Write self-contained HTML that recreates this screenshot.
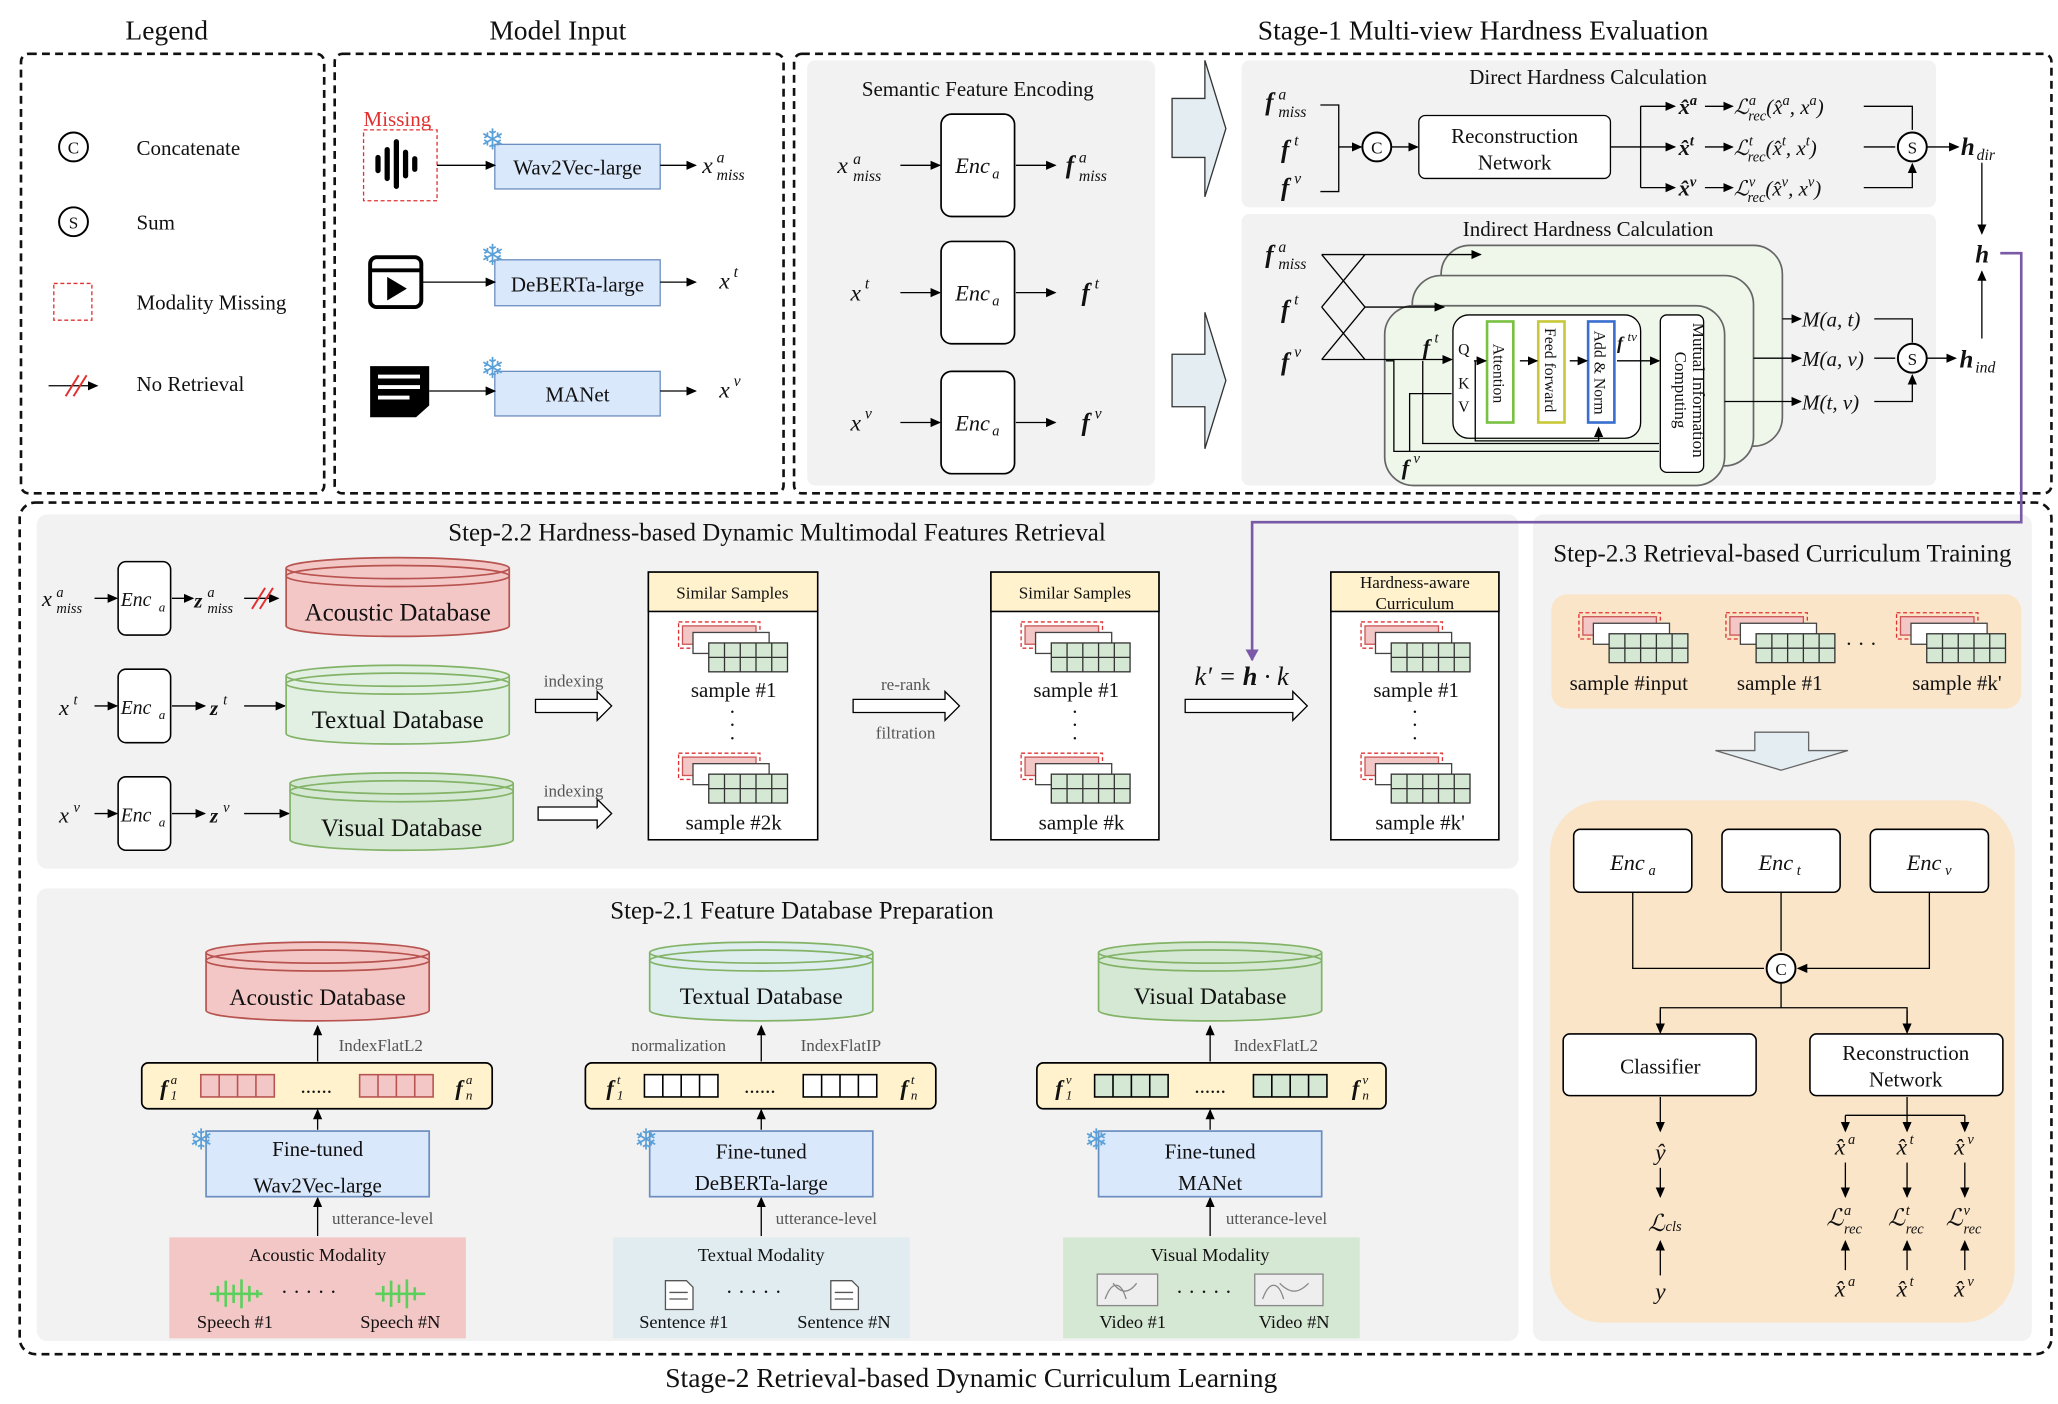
<!DOCTYPE html>
<html><head><meta charset="utf-8"><style>
html,body{margin:0;padding:0;background:#fff;}
svg{display:block;}
text{font-family:"Liberation Serif",serif;fill:#111;}
.m{font-style:italic;}
</style></head><body>
<svg width="2058" height="1404" viewBox="0 0 1568 1070" preserveAspectRatio="none" xmlns="http://www.w3.org/2000/svg">
<defs>
<marker id="ar" markerWidth="8" markerHeight="8" refX="7" refY="4" orient="auto" markerUnits="userSpaceOnUse"><path d="M0,0.5 L8,4 L0,7.5 z" fill="#000"/></marker>
<marker id="arp" markerWidth="10" markerHeight="10" refX="8" refY="5" orient="auto" markerUnits="userSpaceOnUse"><path d="M0,0 L9,5 L0,10 z" fill="#7a5aa8"/></marker>
<symbol id="stk" viewBox="0 0 86 42" width="86" height="42">
<rect x="1" y="1" width="62" height="20" fill="none" stroke="#e03030" stroke-dasharray="3,2"/>
<rect x="4" y="4" width="56" height="14" fill="#f4c7c7" stroke="#c55"/>
<rect x="12" y="9" width="58" height="16" fill="#fff" stroke="#444"/>
<rect x="24" y="17" width="60" height="22" fill="#d5e8d4" stroke="#333"/>
<path d="M36,17V39M48,17V39M60,17V39M72,17V39M24,28H84" stroke="#333" fill="none"/>
</symbol>
</defs>

<!-- titles -->
<text x="127" y="30" font-size="21" text-anchor="middle">Legend</text>
<text x="425" y="30" font-size="21" text-anchor="middle">Model Input</text>
<text x="1130" y="30" font-size="21" text-anchor="middle">Stage-1 Multi-view Hardness Evaluation</text>
<text x="740" y="1057" font-size="21" text-anchor="middle">Stage-2 Retrieval-based Dynamic Curriculum Learning</text>

<!-- dashed frames -->
<g fill="none" stroke="#111" stroke-width="2" stroke-dasharray="6,4">
<rect x="16" y="41" width="231" height="335" rx="6"/>
<rect x="255" y="41" width="342" height="335" rx="6"/>
<rect x="605" y="41" width="958" height="335" rx="6"/>
<rect x="15" y="383" width="1548" height="649" rx="12"/>
</g>

<!-- legend -->
<circle cx="56" cy="112" r="11" fill="#fff" stroke="#000" stroke-width="1.5"/><text x="56" y="117" font-size="13" text-anchor="middle" font-family="Liberation Sans">C</text>
<text x="104" y="118" font-size="16">Concatenate</text>
<circle cx="56" cy="169" r="11" fill="#fff" stroke="#000" stroke-width="1.5"/><text x="56" y="174" font-size="13" text-anchor="middle" font-family="Liberation Sans">S</text>
<text x="104" y="175" font-size="16">Sum</text>
<rect x="41" y="216" width="29" height="28" fill="none" stroke="#e03030" stroke-dasharray="3,2"/>
<text x="104" y="236" font-size="16">Modality Missing</text>
<line x1="37" y1="294" x2="74" y2="294" stroke="#000" marker-end="url(#ar)"/>
<path d="M50,302L60,286M56,302L66,286" stroke="#e03030" stroke-width="1.5"/>
<text x="104" y="298" font-size="16">No Retrieval</text>

<!-- model input -->
<text x="277" y="96" font-size="16" style="fill:#e03030">Missing</text>
<rect x="277" y="99" width="56" height="54" fill="none" stroke="#e03030" stroke-dasharray="3,2"/>
<g stroke="#000" stroke-width="4" stroke-linecap="round"><path d="M288,120v10M295,114v22M302,108v34M309,116v18M316,121v8"/></g>
<rect x="377" y="110" width="126" height="34" fill="#dae8fc" stroke="#6c8ebf"/><text x="440" y="133" font-size="16" text-anchor="middle">Wav2Vec-large</text>
<line x1="333" y1="126" x2="377" y2="126" stroke="#000" marker-end="url(#ar)"/>
<line x1="503" y1="126" x2="530" y2="126" stroke="#000" marker-end="url(#ar)"/>
<text x="535" y="132" font-size="18" class="m">x</text><text x="546" y="124" font-size="12" class="m">a</text><text x="546" y="137" font-size="12" class="m">miss</text>
<rect x="282" y="196" width="39" height="38" rx="5" fill="#fff" stroke="#000" stroke-width="3"/><path d="M282,206H321" stroke="#000" stroke-width="3"/><path d="M295,211L310,220L295,229z" fill="#000"/>
<rect x="377" y="198" width="126" height="35" fill="#dae8fc" stroke="#6c8ebf"/><text x="440" y="222" font-size="16" text-anchor="middle">DeBERTa-large</text>
<line x1="321" y1="215" x2="377" y2="215" stroke="#000" marker-end="url(#ar)"/>
<line x1="503" y1="215" x2="530" y2="215" stroke="#000" marker-end="url(#ar)"/>
<text x="548" y="220" font-size="18" class="m">x</text><text x="559" y="211" font-size="12" class="m">t</text>
<path d="M282,279H327V309L317,318H282z" fill="#000"/><path d="M288,287H320M288,295H320M288,303H312" stroke="#fff" stroke-width="3"/>
<rect x="377" y="283" width="126" height="34" fill="#dae8fc" stroke="#6c8ebf"/><text x="440" y="306" font-size="16" text-anchor="middle">MANet</text>
<line x1="327" y1="298" x2="377" y2="298" stroke="#000" marker-end="url(#ar)"/>
<line x1="503" y1="298" x2="530" y2="298" stroke="#000" marker-end="url(#ar)"/>
<text x="548" y="303" font-size="18" class="m">x</text><text x="559" y="294" font-size="12" class="m">v</text>
<g font-size="22" font-family="DejaVu Sans"><text x="366" y="114" style="fill:#5aa0d8">❄</text><text x="366" y="202" style="fill:#5aa0d8">❄</text><text x="366" y="288" style="fill:#5aa0d8">❄</text></g>

<!-- semantic encoding -->
<rect x="615" y="46" width="265" height="324" rx="6" fill="#f2f2f2"/>
<text x="745" y="73" font-size="16" text-anchor="middle">Semantic Feature Encoding</text>
<g fill="#fff" stroke="#000" stroke-width="1.3"><rect x="717" y="87" width="56" height="78" rx="8"/><rect x="717" y="184" width="56" height="78" rx="8"/><rect x="717" y="283" width="56" height="78" rx="8"/></g>
<g font-size="17" class="m" text-anchor="middle"><text x="741" y="132">Enc</text><text x="741" y="229">Enc</text><text x="741" y="328">Enc</text></g>
<g font-size="11" class="m"><text x="756" y="136">a</text><text x="756" y="233">a</text><text x="756" y="332">a</text></g>
<g stroke="#000" marker-end="url(#ar)"><line x1="686" y1="126" x2="716" y2="126"/><line x1="686" y1="223" x2="716" y2="223"/><line x1="686" y1="322" x2="716" y2="322"/><line x1="774" y1="126" x2="804" y2="126"/><line x1="774" y1="223" x2="804" y2="223"/><line x1="774" y1="322" x2="804" y2="322"/></g>
<text x="638" y="132" font-size="18" class="m">x</text><text x="650" y="125" font-size="12" class="m">a</text><text x="650" y="138" font-size="12" class="m">miss</text>
<text x="648" y="229" font-size="18" class="m">x</text><text x="659" y="220" font-size="12" class="m">t</text>
<text x="648" y="328" font-size="18" class="m">x</text><text x="659" y="319" font-size="12" class="m">v</text>
<text x="812" y="132" font-size="19" class="m" font-weight="bold">f</text><text x="822" y="124" font-size="12" class="m">a</text><text x="822" y="138" font-size="12" class="m">miss</text>
<text x="824" y="229" font-size="19" class="m" font-weight="bold">f</text><text x="834" y="220" font-size="12" class="m">t</text>
<text x="824" y="328" font-size="19" class="m" font-weight="bold">f</text><text x="834" y="319" font-size="12" class="m">v</text>
<g fill="#e3edf2" stroke="#333"><path d="M893,75H918V46L934,98L918,150V120H893z"/><path d="M893,270H918V238L934,290L918,342V310H893z"/></g>

<!-- direct -->
<rect x="946" y="46" width="529" height="112" rx="6" fill="#f2f2f2"/>
<text x="1210" y="64" font-size="16" text-anchor="middle">Direct Hardness Calculation</text>
<text x="964" y="84" font-size="19" class="m" font-weight="bold">f</text><text x="974" y="76" font-size="12" class="m">a</text><text x="974" y="89" font-size="12" class="m">miss</text>
<text x="976" y="120" font-size="19" class="m" font-weight="bold">f</text><text x="986" y="111" font-size="12" class="m">t</text>
<text x="976" y="149" font-size="19" class="m" font-weight="bold">f</text><text x="986" y="140" font-size="12" class="m">v</text>
<path d="M1006,80H1020V146H1006" stroke="#000" fill="none"/>
<line x1="1020" y1="112" x2="1037" y2="112" stroke="#000" marker-end="url(#ar)"/>
<circle cx="1049" cy="112" r="11" fill="#fff" stroke="#000" stroke-width="1.5"/><text x="1049" y="117" font-size="13" text-anchor="middle" font-family="Liberation Sans">C</text>
<line x1="1060" y1="112" x2="1080" y2="112" stroke="#000" marker-end="url(#ar)"/>
<rect x="1081" y="88" width="146" height="48" rx="5" fill="#fff" stroke="#000"/>
<text x="1154" y="109" font-size="16" text-anchor="middle">Reconstruction</text><text x="1154" y="129" font-size="16" text-anchor="middle">Network</text>
<path d="M1227,112H1250M1250,81V143" stroke="#000" fill="none"/>
<g stroke="#000" marker-end="url(#ar)"><line x1="1250" y1="81" x2="1276" y2="81"/><line x1="1250" y1="112" x2="1276" y2="112"/><line x1="1250" y1="143" x2="1276" y2="143"/>
<line x1="1299" y1="81" x2="1320" y2="81"/><line x1="1299" y1="112" x2="1320" y2="112"/><line x1="1299" y1="143" x2="1320" y2="143"/></g>
<g font-size="17" class="m" font-weight="bold">
<text x="1279" y="87">x̂<tspan font-size="11" dy="-7">a</tspan></text>
<text x="1279" y="118">x̂<tspan font-size="11" dy="-7">t</tspan></text>
<text x="1279" y="149">x̂<tspan font-size="11" dy="-7">v</tspan></text>
</g>
<g font-size="16" class="m">
<text x="1321" y="87">ℒ<tspan font-size="11" dy="-7">a</tspan><tspan font-size="11" dx="-6" dy="12">rec</tspan><tspan dy="-5">(x̂</tspan><tspan font-size="11" dy="-7">a</tspan><tspan dy="7">,  x</tspan><tspan font-size="11" dy="-7">a</tspan><tspan dy="7">)</tspan></text>
<text x="1321" y="118">ℒ<tspan font-size="11" dy="-7">t</tspan><tspan font-size="11" dx="-4" dy="12">rec</tspan><tspan dy="-5">(x̂</tspan><tspan font-size="11" dy="-7">t</tspan><tspan dy="7">,  x</tspan><tspan font-size="11" dy="-7">t</tspan><tspan dy="7">)</tspan></text>
<text x="1321" y="149">ℒ<tspan font-size="11" dy="-7">v</tspan><tspan font-size="11" dx="-6" dy="12">rec</tspan><tspan dy="-5">(x̂</tspan><tspan font-size="11" dy="-7">v</tspan><tspan dy="7">,  x</tspan><tspan font-size="11" dy="-7">v</tspan><tspan dy="7">)</tspan></text>
</g>
<path d="M1420,81H1457V99M1420,112H1444M1420,143H1457V125" stroke="#000" fill="none" marker-end="url(#ar)"/>
<circle cx="1457" cy="112" r="11" fill="#fff" stroke="#000" stroke-width="1.5"/><text x="1457" y="117" font-size="13" text-anchor="middle" font-family="Liberation Sans">S</text>
<line x1="1468" y1="112" x2="1492" y2="112" stroke="#000" marker-end="url(#ar)"/>
<text x="1494" y="118" font-size="19" class="m" font-weight="bold">h</text><text x="1506" y="122" font-size="12" class="m">dir</text>
<line x1="1510" y1="124" x2="1510" y2="178" stroke="#000" marker-end="url(#ar)"/>
<text x="1505" y="200" font-size="19" class="m" font-weight="bold">h</text>

<!-- indirect -->
<rect x="946" y="163" width="529" height="207" rx="6" fill="#f2f2f2"/>
<text x="1210" y="180" font-size="16" text-anchor="middle">Indirect Hardness Calculation</text>
<g fill="#eef7ea" stroke="#666" stroke-width="1.3"><rect x="1098" y="187" width="260" height="153" rx="22"/><rect x="1076" y="210" width="260" height="145" rx="22"/><rect x="1055" y="233" width="259" height="137" rx="22"/></g>
<text x="964" y="200" font-size="19" class="m" font-weight="bold">f</text><text x="974" y="192" font-size="12" class="m">a</text><text x="974" y="205" font-size="12" class="m">miss</text>
<text x="976" y="242" font-size="19" class="m" font-weight="bold">f</text><text x="986" y="232" font-size="12" class="m">t</text>
<text x="976" y="282" font-size="19" class="m" font-weight="bold">f</text><text x="986" y="272" font-size="12" class="m">v</text>
<path d="M1007,194H1040M1007,194L1040,234M1007,234L1040,194M1007,234L1040,274M1007,274L1040,234M1007,274H1040" stroke="#000" fill="none"/>
<g stroke="#000" marker-end="url(#ar)"><line x1="1040" y1="194" x2="1128" y2="194"/><line x1="1040" y1="234" x2="1100" y2="234"/><line x1="1040" y1="274" x2="1106" y2="274"/></g>
<rect x="1107" y="240" width="143" height="94" rx="12" fill="#fff" stroke="#000"/>
<rect x="1133" y="245" width="20" height="77" fill="#fff" stroke="#7ac143" stroke-width="2"/>
<rect x="1172" y="245" width="20" height="77" fill="#fff" stroke="#c8c83a" stroke-width="2"/>
<rect x="1210" y="245" width="20" height="77" fill="#fff" stroke="#3a6fd0" stroke-width="2"/>
<g font-size="12"><text transform="translate(1138,262) rotate(90)">Attention</text><text transform="translate(1177,250) rotate(90)">Feed forward</text><text transform="translate(1215,252) rotate(90)">Add &amp; Norm</text></g>
<g font-size="12"><text x="1111" y="270">Q</text><text x="1111" y="296">K</text><text x="1111" y="314">V</text></g>
<g stroke="#000" marker-end="url(#ar)"><line x1="1123" y1="275" x2="1132" y2="275"/><line x1="1158" y1="275" x2="1171" y2="275"/><line x1="1196" y1="275" x2="1209" y2="275"/><line x1="1232" y1="275" x2="1264" y2="275"/></g>
<path d="M1124,275V336H1218V326" stroke="#000" fill="none" marker-end="url(#ar)"/>
<text x="1232" y="266" font-size="14" class="m" font-weight="bold">f</text><text x="1240" y="260" font-size="10" class="m">tv</text>
<text x="1084" y="270" font-size="17" class="m" font-weight="bold">f</text><text x="1093" y="261" font-size="11" class="m">t</text>
<text x="1068" y="362" font-size="17" class="m" font-weight="bold">f</text><text x="1077" y="353" font-size="11" class="m">v</text>
<path d="M1056,275H1062V344H1264M1074,344V300H1106M1084,275V338H1264" stroke="#000" fill="none"/>
<rect x="1265" y="240" width="33" height="120" rx="5" fill="#fff" stroke="#000"/>
<g font-size="13"><text transform="translate(1290,246) rotate(90)">Mutual Information</text><text transform="translate(1276,268) rotate(90)">Computing</text></g>
<g stroke="#000" marker-end="url(#ar)"><line x1="1358" y1="243" x2="1372" y2="243"/><line x1="1336" y1="273" x2="1372" y2="273"/><line x1="1314" y1="306" x2="1372" y2="306"/></g>
<g font-size="16" class="m"><text x="1373" y="249">M(a, t)</text><text x="1373" y="279">M(a, v)</text><text x="1373" y="312">M(t, v)</text></g>
<path d="M1428,243H1457V261M1428,273H1444M1428,306H1457V286" stroke="#000" fill="none" marker-end="url(#ar)"/>
<circle cx="1457" cy="273" r="11" fill="#fff" stroke="#000" stroke-width="1.5"/><text x="1457" y="278" font-size="13" text-anchor="middle" font-family="Liberation Sans">S</text>
<line x1="1468" y1="273" x2="1490" y2="273" stroke="#000" marker-end="url(#ar)"/>
<text x="1493" y="280" font-size="19" class="m" font-weight="bold">h</text><text x="1505" y="284" font-size="12" class="m">ind</text>
<line x1="1510" y1="258" x2="1510" y2="207" stroke="#000" marker-end="url(#ar)"/>

<!-- Step 2.2 -->
<rect x="28" y="392" width="1129" height="270" rx="8" fill="#f2f2f2"/>
<text x="592" y="412" font-size="19" text-anchor="middle">Step-2.2 Hardness-based Dynamic Multimodal Features Retrieval</text>
<g fill="#fff" stroke="#000" stroke-width="1.2"><rect x="90" y="428" width="40" height="56" rx="6"/><rect x="90" y="510" width="40" height="56" rx="6"/><rect x="90" y="592" width="40" height="56" rx="6"/></g>
<g font-size="15" class="m"><text x="92" y="462">Enc</text><text x="92" y="544">Enc</text><text x="92" y="626">Enc</text></g>
<g font-size="10" class="m"><text x="121" y="466">a</text><text x="121" y="548">a</text><text x="121" y="630">a</text></g>
<text x="32" y="462" font-size="17" class="m">x</text><text x="43" y="455" font-size="11" class="m">a</text><text x="43" y="467" font-size="11" class="m">miss</text>
<text x="45" y="545" font-size="17" class="m">x</text><text x="56" y="537" font-size="11" class="m">t</text>
<text x="45" y="627" font-size="17" class="m">x</text><text x="56" y="619" font-size="11" class="m">v</text>
<g stroke="#000" marker-end="url(#ar)"><line x1="72" y1="456" x2="89" y2="456"/><line x1="72" y1="538" x2="89" y2="538"/><line x1="72" y1="620" x2="89" y2="620"/><line x1="131" y1="456" x2="147" y2="456"/><line x1="131" y1="538" x2="156" y2="538"/><line x1="131" y1="620" x2="156" y2="620"/><line x1="186" y1="456" x2="212" y2="456"/><line x1="186" y1="538" x2="217" y2="538"/><line x1="186" y1="620" x2="220" y2="620"/></g>
<path d="M192,464L202,448M198,464L208,448" stroke="#e03030" stroke-width="1.5"/>
<text x="148" y="463" font-size="16" class="m" font-weight="bold">z</text><text x="158" y="455" font-size="11" class="m">a</text><text x="158" y="467" font-size="11" class="m">miss</text>
<text x="160" y="545" font-size="16" class="m" font-weight="bold">z</text><text x="170" y="537" font-size="11" class="m">t</text>
<text x="160" y="627" font-size="16" class="m" font-weight="bold">z</text><text x="170" y="619" font-size="11" class="m">v</text>
<g stroke-width="1.3">
<path d="M218,433V477A85,8 0 0 0 388,477V433" fill="#f4c7c7" stroke="#b85450"/><ellipse cx="303" cy="433" rx="85" ry="8" fill="#f4c7c7" stroke="#b85450"/><ellipse cx="303" cy="439" rx="85" ry="8" fill="none" stroke="#b85450"/>
<path d="M218,515V559A85,8 0 0 0 388,559V515" fill="#e2efe3" stroke="#82b366"/><ellipse cx="303" cy="515" rx="85" ry="8" fill="#e2efe3" stroke="#82b366"/><ellipse cx="303" cy="521" rx="85" ry="8" fill="none" stroke="#82b366"/>
<path d="M221,597V640A85,8 0 0 0 391,640V597" fill="#d5e8d4" stroke="#82b366"/><ellipse cx="306" cy="597" rx="85" ry="8" fill="#d5e8d4" stroke="#82b366"/><ellipse cx="306" cy="603" rx="85" ry="8" fill="none" stroke="#82b366"/>
</g>
<g font-size="19" text-anchor="middle"><text x="303" y="473">Acoustic Database</text><text x="303" y="555">Textual Database</text><text x="306" y="637">Visual Database</text></g>
<g fill="#fff" stroke="#000"><path d="M408,533H455V527L466,538L455,549V543H408z"/><path d="M410,615H455V609L466,620L455,631V625H410z"/><path d="M650,533H720V527L731,538L720,549V543H650z"/><path d="M903,533H985V527L996,538L985,549V543H903z"/></g>
<g font-size="13" text-anchor="middle"><text x="437" y="523" style="fill:#555">indexing</text><text x="437" y="607" style="fill:#555">indexing</text><text x="690" y="526" style="fill:#555">re-rank</text><text x="690" y="563" style="fill:#555">filtration</text></g>
<text x="946" y="522" font-size="20" class="m" text-anchor="middle">k′ = <tspan font-weight="bold">h</tspan> · k</text>
<g stroke="#000" stroke-width="1.2"><rect x="494" y="436" width="129" height="204" fill="#fff"/><rect x="494" y="436" width="129" height="30" fill="#fff2cc"/>
<rect x="755" y="436" width="128" height="204" fill="#fff"/><rect x="755" y="436" width="128" height="30" fill="#fff2cc"/>
<rect x="1014" y="436" width="128" height="204" fill="#fff"/><rect x="1014" y="436" width="128" height="30" fill="#fff2cc"/></g>
<g font-size="13" text-anchor="middle"><text x="558" y="456">Similar Samples</text><text x="819" y="456">Similar Samples</text><text x="1078" y="448">Hardness-aware</text><text x="1078" y="464">Curriculum</text></g>
<use href="#stk" x="516" y="473"/><use href="#stk" x="516" y="573"/><use href="#stk" x="777" y="473"/><use href="#stk" x="777" y="573"/><use href="#stk" x="1036" y="473"/><use href="#stk" x="1036" y="573"/>
<g font-size="16" text-anchor="middle"><text x="559" y="531">sample #1</text><text x="559" y="632">sample #2k</text><text x="820" y="531">sample #1</text><text x="824" y="632">sample #k</text><text x="1079" y="531">sample #1</text><text x="1082" y="632">sample #k'</text></g>
<g font-size="16" text-anchor="middle"><text x="558" y="548">·</text><text x="558" y="558">·</text><text x="558" y="568">·</text><text x="819" y="548">·</text><text x="819" y="558">·</text><text x="819" y="568">·</text><text x="1078" y="548">·</text><text x="1078" y="558">·</text><text x="1078" y="568">·</text></g>

<!-- Step 2.1 -->
<rect x="28" y="677" width="1129" height="345" rx="8" fill="#f2f2f2"/>
<text x="611" y="700" font-size="19" text-anchor="middle">Step-2.1 Feature Database Preparation</text>
<g stroke-width="1.3">
<path d="M157,726V770A85,8 0 0 0 327,770V726" fill="#f4c7c7" stroke="#b85450"/><ellipse cx="242" cy="726" rx="85" ry="8" fill="#f4c7c7" stroke="#b85450"/><ellipse cx="242" cy="732" rx="85" ry="8" fill="none" stroke="#b85450"/>
<path d="M495,726V770A85,8 0 0 0 665,770V726" fill="#deedee" stroke="#82b366"/><ellipse cx="580" cy="726" rx="85" ry="8" fill="#deedee" stroke="#82b366"/><ellipse cx="580" cy="732" rx="85" ry="8" fill="none" stroke="#82b366"/>
<path d="M837,726V770A85,8 0 0 0 1007,770V726" fill="#d5e8d4" stroke="#82b366"/><ellipse cx="922" cy="726" rx="85" ry="8" fill="#d5e8d4" stroke="#82b366"/><ellipse cx="922" cy="732" rx="85" ry="8" fill="none" stroke="#82b366"/>
</g>
<g font-size="18" text-anchor="middle"><text x="242" y="766">Acoustic Database</text><text x="580" y="765">Textual Database</text><text x="922" y="765">Visual Database</text></g>
<g stroke="#000" marker-end="url(#ar)"><line x1="242" y1="809" x2="242" y2="782"/><line x1="580" y1="809" x2="580" y2="782"/><line x1="922" y1="809" x2="922" y2="782"/><line x1="242" y1="861" x2="242" y2="846"/><line x1="580" y1="861" x2="580" y2="846"/><line x1="922" y1="861" x2="922" y2="846"/><line x1="242" y1="942" x2="242" y2="913"/><line x1="580" y1="942" x2="580" y2="913"/><line x1="922" y1="942" x2="922" y2="913"/></g>
<g font-size="13"><text x="258" y="801" style="fill:#555">IndexFlatL2</text><text x="481" y="801" style="fill:#555">normalization</text><text x="610" y="801" style="fill:#555">IndexFlatIP</text><text x="940" y="801" style="fill:#555">IndexFlatL2</text><text x="253" y="933" style="fill:#555">utterance-level</text><text x="591" y="933" style="fill:#555">utterance-level</text><text x="934" y="933" style="fill:#555">utterance-level</text></g>
<g fill="#fff2cc" stroke="#000" stroke-width="1.3"><rect x="108" y="810" width="267" height="35" rx="5"/><rect x="446" y="810" width="267" height="35" rx="5"/><rect x="790" y="810" width="266" height="35" rx="5"/></g>
<g stroke-width="1.2"><rect x="153" y="819" width="56" height="17" fill="#f4c7c7" stroke="#b85450"/><rect x="274" y="819" width="56" height="17" fill="#f4c7c7" stroke="#b85450"/><path d="M167,819v17M181,819v17M195,819v17M288,819v17M302,819v17M316,819v17" stroke="#b85450"/>
<rect x="491" y="819" width="56" height="17" fill="#fff" stroke="#000"/><rect x="612" y="819" width="56" height="17" fill="#fff" stroke="#000"/><path d="M505,819v17M519,819v17M533,819v17M626,819v17M640,819v17M654,819v17" stroke="#000"/>
<rect x="834" y="819" width="56" height="17" fill="#d5e8d4" stroke="#000"/><rect x="955" y="819" width="56" height="17" fill="#d5e8d4" stroke="#000"/><path d="M848,819v17M862,819v17M876,819v17M969,819v17M983,819v17M997,819v17" stroke="#000"/></g>
<g font-size="16"><text x="229" y="833">......</text><text x="567" y="833">......</text><text x="910" y="833">......</text></g>
<g font-size="17" class="m" font-weight="bold"><text x="122" y="835">f</text><text x="347" y="835">f</text><text x="462" y="835">f</text><text x="686" y="835">f</text><text x="804" y="835">f</text><text x="1030" y="835">f</text></g>
<g font-size="10" class="m"><text x="130" y="826">a</text><text x="130" y="838">1</text><text x="355" y="826">a</text><text x="355" y="838">n</text><text x="470" y="826">t</text><text x="470" y="838">1</text><text x="694" y="826">t</text><text x="694" y="838">n</text><text x="812" y="826">v</text><text x="812" y="838">1</text><text x="1038" y="826">v</text><text x="1038" y="838">n</text></g>
<g fill="#dae8fc" stroke="#6c8ebf" stroke-width="1.3"><rect x="157" y="862" width="170" height="50"/><rect x="495" y="862" width="170" height="50"/><rect x="837" y="862" width="170" height="50"/></g>
<g font-size="16" text-anchor="middle"><text x="242" y="881">Fine-tuned</text><text x="242" y="909">Wav2Vec-large</text><text x="580" y="883">Fine-tuned</text><text x="580" y="907">DeBERTa-large</text><text x="922" y="883">Fine-tuned</text><text x="922" y="907">MANet</text></g>
<g font-size="22" font-family="DejaVu Sans"><text x="144" y="876" style="fill:#5aa0d8">❄</text><text x="483" y="876" style="fill:#5aa0d8">❄</text><text x="826" y="876" style="fill:#5aa0d8">❄</text></g>
<rect x="129" y="943" width="226" height="77" fill="#f4c7c7"/><rect x="467" y="943" width="226" height="77" fill="#e0ecf0"/><rect x="810" y="943" width="226" height="77" fill="#d5e8d4"/>
<g font-size="14" text-anchor="middle"><text x="242" y="961">Acoustic Modality</text><text x="580" y="961">Textual Modality</text><text x="922" y="961">Visual Modality</text>
<text x="179" y="1012">Speech #1</text><text x="305" y="1012">Speech #N</text><text x="521" y="1012">Sentence #1</text><text x="643" y="1012">Sentence #N</text><text x="863" y="1012">Video #1</text><text x="986" y="1012">Video #N</text></g>
<g font-size="16"><text x="214" y="990">· · · · ·</text><text x="553" y="990">· · · · ·</text><text x="896" y="990">· · · · ·</text></g>
<g stroke="#5cd05c" stroke-width="2"><path d="M160,986h40M166,980v12M172,976v20M178,979v14M184,975v22M190,980v12M196,983v6M286,986h38M292,980v12M298,976v20M304,979v14M310,975v22M316,981v10"/></g>
<g fill="#fff" stroke="#555"><path d="M507,976h16l5,5v17h-21z"/><path d="M633,976h16l5,5v17h-21z"/><path d="M510,985h14M510,990h14M636,985h14M636,990h14"/></g>
<g fill="#eee" stroke="#888"><rect x="836" y="971" width="46" height="24"/><rect x="956" y="971" width="52" height="24"/><path d="M842,990c5,-14 12,-14 16,0M848,978c6,8 12,8 18,0M962,990c5,-14 12,-14 16,0M975,978c8,8 14,8 22,0" fill="none"/></g>

<!-- Step 2.3 -->
<rect x="1168" y="392" width="380" height="630" rx="8" fill="#f2f2f2"/>
<text x="1358" y="428" font-size="19" text-anchor="middle">Step-2.3 Retrieval-based Curriculum Training</text>
<rect x="1182" y="453" width="358" height="87" rx="12" fill="#fbe5c8"/>
<use href="#stk" x="1202" y="466"/><use href="#stk" x="1314" y="466"/><use href="#stk" x="1444" y="466"/>
<g font-size="16" text-anchor="middle"><text x="1241" y="526">sample #input</text><text x="1356" y="526">sample #1</text><text x="1491" y="526">sample #k'</text><text x="1418" y="496">· · ·</text></g>
<path d="M1337,558H1378V572H1408L1357,587L1307,572H1337z" fill="#e3edf2" stroke="#666"/>
<rect x="1181" y="610" width="354" height="398" rx="40" fill="#fbe5c8"/>
<g fill="#fff" stroke="#000" stroke-width="1.2"><rect x="1199" y="632" width="90" height="48" rx="5"/><rect x="1312" y="632" width="90" height="48" rx="5"/><rect x="1425" y="632" width="90" height="48" rx="5"/></g>
<g font-size="17" class="m" text-anchor="middle"><text x="1240" y="663">Enc</text><text x="1353" y="663">Enc</text><text x="1466" y="663">Enc</text></g>
<g font-size="11" class="m"><text x="1256" y="667">a</text><text x="1369" y="667">t</text><text x="1482" y="667">v</text></g>
<path d="M1244,680V738H1344M1357,680V725M1470,680V738H1370" stroke="#000" fill="none" marker-end="url(#ar)"/>
<circle cx="1357" cy="738" r="11" fill="#fff" stroke="#000" stroke-width="1.5"/><text x="1357" y="743" font-size="13" text-anchor="middle" font-family="Liberation Sans">C</text>
<path d="M1357,749V768M1265,786V768H1453V786" stroke="#000" fill="none"/>
<g stroke="#000" marker-end="url(#ar)"><line x1="1265" y1="770" x2="1265" y2="787"/><line x1="1453" y1="770" x2="1453" y2="787"/></g>
<g fill="#fff" stroke="#000" stroke-width="1.2"><rect x="1191" y="788" width="147" height="47" rx="5"/><rect x="1379" y="788" width="147" height="47" rx="5"/></g>
<g font-size="16" text-anchor="middle"><text x="1265" y="818">Classifier</text><text x="1452" y="808">Reconstruction</text><text x="1452" y="828">Network</text></g>
<g stroke="#000" marker-end="url(#ar)"><line x1="1265" y1="836" x2="1265" y2="862"/><line x1="1265" y1="890" x2="1265" y2="912"/><line x1="1265" y1="972" x2="1265" y2="946"/>
<line x1="1406" y1="850" x2="1406" y2="862"/><line x1="1453" y1="836" x2="1453" y2="862"/><line x1="1497" y1="850" x2="1497" y2="862"/>
<line x1="1406" y1="886" x2="1406" y2="912"/><line x1="1453" y1="886" x2="1453" y2="912"/><line x1="1497" y1="886" x2="1497" y2="912"/>
<line x1="1406" y1="968" x2="1406" y2="946"/><line x1="1453" y1="968" x2="1453" y2="946"/><line x1="1497" y1="968" x2="1497" y2="946"/></g>
<path d="M1406,850H1497" stroke="#000"/>
<g font-size="18" class="m" text-anchor="middle"><text x="1265" y="884">ŷ</text><text x="1262" y="938">ℒ</text><text x="1265" y="990">y</text>
<text x="1402" y="880">x̂</text><text x="1449" y="880">x̂</text><text x="1493" y="880">x̂</text>
<text x="1398" y="934">ℒ</text><text x="1445" y="934">ℒ</text><text x="1489" y="934">ℒ</text>
<text x="1402" y="988">x̂</text><text x="1449" y="988">x̂</text><text x="1493" y="988">x̂</text></g>
<g font-size="11" class="m"><text x="1269" y="938">cls</text><text x="1408" y="872">a</text><text x="1455" y="872">t</text><text x="1499" y="872">v</text>
<text x="1405" y="926">a</text><text x="1452" y="926">t</text><text x="1496" y="926">v</text><text x="1405" y="940">rec</text><text x="1452" y="940">rec</text><text x="1496" y="940">rec</text>
<text x="1408" y="980">a</text><text x="1455" y="980">t</text><text x="1499" y="980">v</text></g>

<!-- purple (on top) -->
<path d="M1524,193H1540V398H954V503" stroke="#7a5aa8" stroke-width="2" fill="none" marker-end="url(#arp)"/>
</svg>
</body></html>
